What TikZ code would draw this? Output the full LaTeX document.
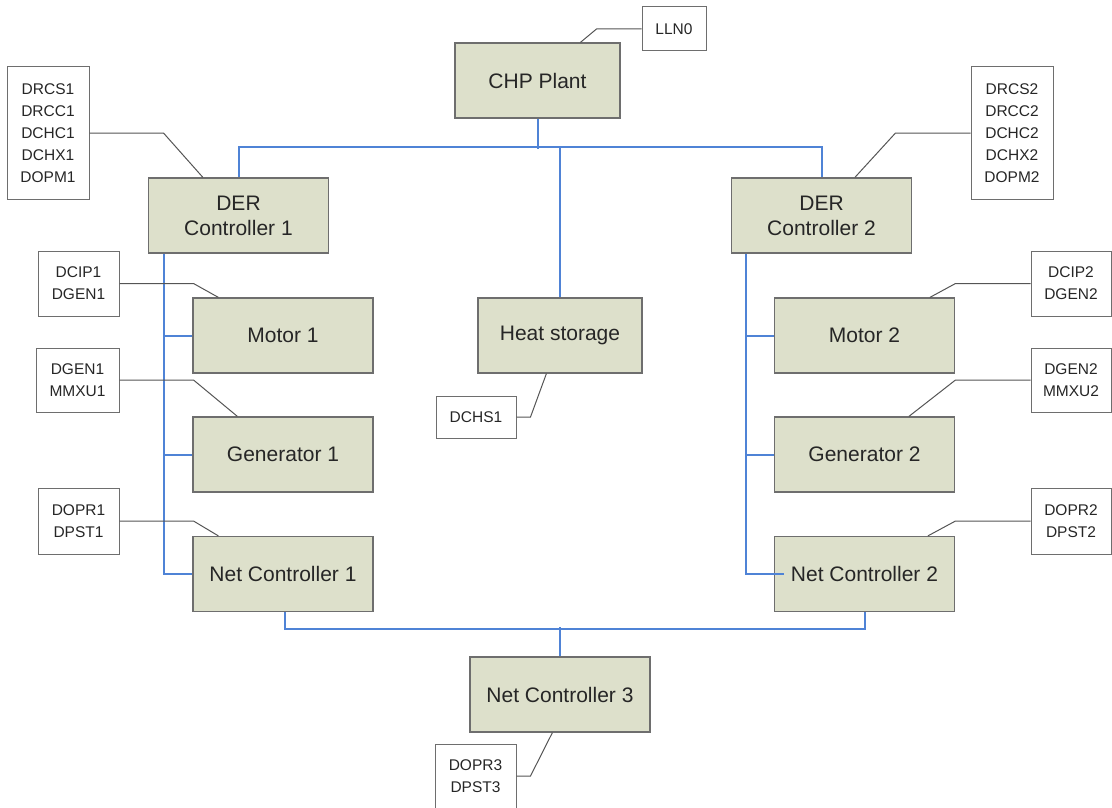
\documentclass[tikz,border=0pt]{standalone}
\usepackage{fontspec}
\setmainfont{Liberation Sans}
\usetikzlibrary{positioning}
\definecolor{blockfill}{HTML}{DDE0CB}
\definecolor{blockdraw}{HTML}{6E6E6E}
\definecolor{buscol}{HTML}{4F83D6}
\definecolor{tagcol}{HTML}{555555}
\begin{document}
\begin{tikzpicture}[x=1pt, y=-1pt,
      block/.style={rectangle, draw=blockdraw, line width=1.2pt, fill=blockfill, minimum width=180pt, minimum height=75pt, inner sep=0pt, align=center, text=black!85, font=\fontsize{21}{25}\selectfont},
      lnbox/.style={rectangle, draw=blockdraw, line width=1pt, fill=white, inner sep=0pt, align=center, text=black!85, font=\fontsize{15.5}{22}\selectfont},
      bus/.style={draw=buscol, line width=2pt},
      tag/.style={draw=tagcol, line width=1pt},
      ]
        \useasboundingbox (0,0) rectangle (1112,808);

        \node[block, minimum width=165pt] (chp) at (537.5,80.5) {CHP Plant};
        \node[block] (der1) at (238.5,215.5) {DER\\Controller 1};
        \node[block] (der2) at (821.5,215.5) {DER\\Controller 2};
        \node[block, minimum width=164pt] (heat) at (560,335.5) {Heat storage};

        \node[block] (motor1) at (283,335.5) {Motor 1};
        \node[block] (gen1)   at (283,454.5) {Generator 1};
        \node[block] (net1)   at (283,574)   {Net Controller 1};

        \node[block] (motor2) at (864.5,335.5) {Motor 2};
        \node[block] (gen2)   at (864.5,454.5) {Generator 2};
        \node[block] (net2)   at (864.5,574)   {Net Controller 2};

        \node[block] (net3) at (560,694.5) {Net Controller 3};

        \node[lnbox, minimum width=64pt, minimum height=44pt] (lln0) at (674,29) {LLN0};
        \node[lnbox, minimum width=82pt, minimum height=132pt] (drcs1) at (48,133) {DRCS1\\DRCC1\\DCHC1\\DCHX1\\DOPM1};
        \node[lnbox, minimum width=82pt, minimum height=132pt] (drcs2) at (1012,133) {DRCS2\\DRCC2\\DCHC2\\DCHX2\\DOPM2};
        \node[lnbox, minimum width=81pt, minimum height=65pt] (dcip1) at (78.5,283.5) {DCIP1\\DGEN1};
        \node[lnbox, minimum width=83pt, minimum height=64pt] (dgen1) at (77.5,380) {DGEN1\\MMXU1};
        \node[lnbox, minimum width=81pt, minimum height=66pt] (dopr1) at (78.5,521) {DOPR1\\DPST1};
        \node[lnbox, minimum width=80pt, minimum height=65pt] (dcip2) at (1071,283.5) {DCIP2\\DGEN2};
        \node[lnbox, minimum width=80pt, minimum height=64pt] (dgen2) at (1071,380) {DGEN2\\MMXU2};
        \node[lnbox, minimum width=80pt, minimum height=66pt] (dopr2) at (1071,521) {DOPR2\\DPST2};
        \node[lnbox, minimum width=80pt, minimum height=42pt] (dchs1) at (476,417) {DCHS1};
        \node[lnbox, minimum width=81pt, minimum height=64pt] (dopr3) at (475.5,776) {DOPR3\\DPST3};

        \draw[bus] (chp.south) -- ++(0,30);
        \draw[bus] (der1.north) -- ++(0,-30) -| (der2.north);
        \draw[bus] (heat.north) -- ++(0,-150);

        \draw[bus] ([xshift=-74.5pt]der1.south) |- (net1.west);
        \foreach \target in {motor1,gen1}
          \draw[bus] (\target.west) -- ++(-29,0);

        \draw[bus] ([xshift=15pt]der2.south west) |- ([xshift=10pt]net2.west);
        \foreach \target in {motor2,gen2}
          \draw[bus] (\target.west) -- ++(-28,0);

        \draw[bus] ([xshift=2pt]net1.south) -- ++(0,17) -| ([xshift=0.5pt]net2.south);
        \draw[bus] (net3.north) -- ++(0,-29);

        \draw[tag] (lln0.west) -- ++(-45,0) -- ([xshift=126pt]chp.north west);
        \draw[tag] (drcs1.east) -- ++(74,0) -- ([xshift=55pt]der1.north west);
        \draw[tag] (drcs2.west) -- ++(-75,0) -- ([xshift=124pt]der2.north west);
        \draw[tag] (dcip1.east) -- ++(74,0) -- ([xshift=26pt]motor1.north west);
        \draw[tag] (dgen1.east) -- ++(74,0) -- ([xshift=45pt]gen1.north west);
        \draw[tag] (dopr1.east) -- ++(74,0) -- ([xshift=26pt]net1.north west);
        \draw[tag] (dcip2.west) -- ++(-75,0) -- ([xshift=156pt]motor2.north west);
        \draw[tag] (dgen2.west) -- ++(-75,0) -- ([xshift=135pt]gen2.north west);
        \draw[tag] (dopr2.west) -- ++(-75,0) -- ([xshift=154pt]net2.north west);
        \draw[tag] (dchs1.east) -- ++(14,0) -- ([xshift=69pt]heat.south west);
        \draw[tag] (dopr3.east) -- ++(14,0) -- ([xshift=83pt]net3.south west);

        \end{tikzpicture}
\end{document}
